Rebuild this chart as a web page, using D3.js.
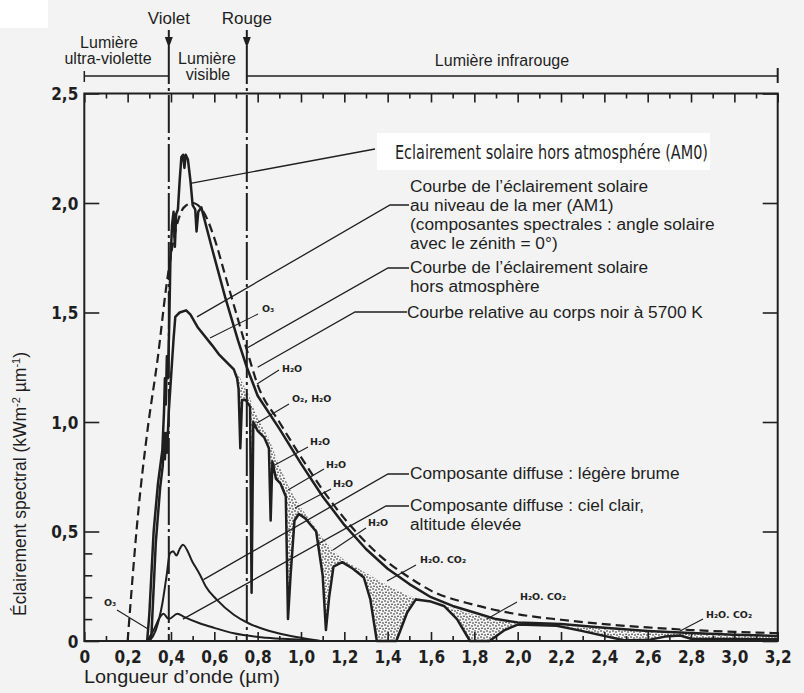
<!DOCTYPE html>
<html><head><meta charset="utf-8">
<script src="https://cdn.jsdelivr.net/npm/d3@7"></script>
<style>
body{margin:0;background:#f3f3f3}
text{font-family:"Liberation Sans",Arial,sans-serif;fill:#1f1f1f}
.tick text{font-family:"Liberation Sans Narrow","DejaVu Sans Condensed","Liberation Sans",sans-serif;font-stretch:condensed;font-weight:bold;font-size:17px}
.chem{font-family:"DejaVu Sans",sans-serif;font-weight:bold;font-size:9.5px}
</style>
</head><body>
<svg id="c" width="804" height="693"></svg>
<script>
// ---------------- data ----------------
// Extraterrestrial solar irradiance (AM0), kW m-2 µm-1
const am0Wave  = [0.29,0.30,0.32,0.34,0.36,0.368,0.372,0.376,0.381,0.386,0.392,0.397,0.405,0.412,0.418,0.424,0.432,0.44,0.448,0.456,0.462,0.468,0.478,0.49,0.50,0.512,0.518,0.526,0.54,0.59,0.65,0.71,0.75,0.80,0.90,1.0,1.1,1.2,1.3,1.4,1.5,1.6,1.7,1.8,1.9,2.0,2.2,2.4,2.6,2.8,3.0,3.2];
const am0Value = [0.0,0.12,0.5,0.72,0.87,1.05,1.2,1.08,1.3,1.2,1.45,1.72,1.9,1.96,1.8,1.95,1.97,2.1,2.21,2.22,2.16,2.22,2.2,2.1,1.99,1.97,1.87,1.96,1.98,1.79,1.57,1.37,1.25,1.12,0.97,0.81,0.66,0.53,0.42,0.33,0.26,0.2,0.16,0.13,0.1,0.085,0.078,0.06,0.046,0.036,0.029,0.023];
// Sea-level solar irradiance (AM1)
const am1Wave  = [0.30,0.31,0.33,0.35,0.362,0.368,0.372,0.377,0.382,0.39,0.40,0.412,0.42,0.44,0.47,0.49,0.525,0.59,0.62,0.66,0.69,0.705,0.712,0.72,0.728,0.745,0.765,0.772,0.78,0.80,0.83,0.852,0.86,0.868,0.885,0.905,0.93,0.94,0.952,0.97,0.99,1.02,1.07,1.1,1.115,1.13,1.15,1.19,1.24,1.29,1.32,1.35,1.44,1.49,1.53,1.6,1.66,1.72,1.78,1.87,1.94,2.0,2.18,2.3,2.49,2.6,2.68,2.75,2.8,3.2];
const am1Value = [0.0,0.03,0.45,0.7,0.8,0.95,0.83,0.95,0.86,1.05,1.2,1.38,1.48,1.5,1.51,1.49,1.43,1.35,1.31,1.27,1.24,1.2,1.15,0.88,1.1,1.1,1.07,0.22,1.0,0.96,0.93,0.88,0.55,0.82,0.74,0.72,0.66,0.1,0.3,0.55,0.58,0.56,0.5,0.3,0.05,0.2,0.34,0.36,0.33,0.29,0.19,0.0,0.0,0.13,0.19,0.18,0.16,0.1,0.0,0.0,0.05,0.075,0.07,0.045,0.003,0.004,0.02,0.025,0.01,0.008];
// Upper edge of the stippled absorption areas (AM1 without absorption)
const stipTopWave  = [0.68,0.72,0.76,0.80,0.85,0.90,0.95,1.0,1.05,1.1,1.15,1.2,1.3,1.4,1.5,1.6,1.7,1.8,1.9,2.0,2.2,2.4,2.6,2.8,3.0,3.2];
const stipTopValue = [1.25,1.2,1.12,1.02,0.93,0.8,0.69,0.61,0.54,0.47,0.41,0.37,0.31,0.255,0.205,0.18,0.15,0.12,0.095,0.08,0.07,0.055,0.043,0.035,0.03,0.025];
// Black body at 5700 K (relative)
const bbWave  = [0.20,0.25,0.29,0.34,0.38,0.42,0.46,0.50,0.55,0.60,0.65,0.70,0.75,0.80,0.90,1.0,1.1,1.2,1.3,1.4,1.5,1.6,1.8,2.0,2.2,2.4,2.6,2.8,3.0,3.2];
const bbValue = [0.0,0.6,0.95,1.3,1.63,1.87,1.98,2.0,1.96,1.84,1.67,1.5,1.33,1.17,1.0,0.84,0.69,0.56,0.45,0.36,0.29,0.23,0.165,0.122,0.097,0.077,0.062,0.05,0.042,0.036];
// Diffuse component: light haze
const hazeWave  = [0.30,0.33,0.36,0.38,0.395,0.41,0.425,0.44,0.455,0.50,0.535,0.56,0.61,0.69,0.76,0.84,0.92,1.0,1.09];
const hazeValue = [0.0,0.05,0.17,0.3,0.4,0.41,0.39,0.42,0.44,0.36,0.3,0.25,0.19,0.12,0.08,0.05,0.03,0.015,0.0];
// Diffuse component: clear sky, high altitude
const clearWave  = [0.29,0.32,0.35,0.365,0.39,0.43,0.46,0.535,0.6,0.69,0.84,1.0,1.09];
const clearValue = [0.0,0.05,0.11,0.125,0.1,0.125,0.11,0.08,0.06,0.035,0.015,0.006,0.0];

const xTicks      = [0,0.2,0.4,0.6,0.8,1.0,1.2,1.4,1.6,1.8,2.0,2.2,2.4,2.6,2.8,3.0,3.2];
const xTickLabels = ["0","0,2","0,4","0,6","0,8","1,0","1,2","1,4","1,6","1,8","2,0","2,2","2,4","2,6","2,8","3,0","3,2"];
const xMinorTicks = [0.1,0.3,0.5,0.7,0.9,1.1,1.3,1.5,1.7,1.9,2.1,2.3,2.5,2.7,2.9,3.1];
const yTicks      = [0,0.5,1.0,1.5,2.0,2.5];
const yTickLabels = ["0","0,5","1,0","1,5","2,0","2,5"];
const yMinorTicks = [0.1,0.2,0.3,0.4];
const violetEdge = 0.39, redEdge = 0.75;

// ---------------- drawing ----------------
const svg = d3.select("#c");
const ink = "#1f1f1f";
const x = d3.scaleLinear().domain([0,3.2]).range([84.3,777.7]);
const y = d3.scaleLinear().domain([0,2.5]).range([641,93.5]);
const P = (l,v)=>[x(l),y(v)];

svg.append("rect").attr("width",804).attr("height",693).attr("fill","#f3f3f3");
svg.append("rect").attr("width",48).attr("height",28).attr("fill","#ffffff");

const defs = svg.append("defs");
const pat = defs.append("pattern").attr("id","stip").attr("patternUnits","userSpaceOnUse").attr("width",6).attr("height",6);
pat.append("rect").attr("width",6).attr("height",6).attr("fill","#f3f3f3");
[[1,1],[4,2],[2,4.2],[5,5]].forEach(([a,b])=>pat.append("circle").attr("cx",a).attr("cy",b).attr("r",0.8).attr("fill",ink));

const zip = (a,b)=>a.map((d,i)=>[d,b[i]]);
const interp = (ws,vs,l)=>{ if(l<=ws[0]) return vs[0]; for(let i=1;i<ws.length;i++){ if(l<=ws[i]){const t=(l-ws[i-1])/(ws[i]-ws[i-1]);return vs[i-1]+t*(vs[i]-vs[i-1]);} } return vs[vs.length-1]; };

// stippled absorption area between AM1 and its unabsorbed envelope
const grid = Array.from(new Set(stipTopWave.concat(am1Wave).filter(l=>l>=stipTopWave[0]))).sort((a,b)=>a-b);
const band = grid.map(l=>{const lo=interp(am1Wave,am1Value,l);const hi=Math.max(lo,interp(stipTopWave,stipTopValue,l));return {l,lo,hi};});
svg.append("path").datum(band).attr("fill","url(#stip)").attr("stroke","none")
  .attr("d",d3.area().x(d=>x(d.l)).y0(d=>y(d.lo)).y1(d=>y(d.hi)));

const lineLin = d3.line().x(d=>x(d[0])).y(d=>y(d[1]));
const lineSm  = d3.line().x(d=>x(d[0])).y(d=>y(d[1])).curve(d3.curveMonotoneX);

svg.append("path").datum(zip(bbWave,bbValue)).attr("d",lineSm).attr("fill","none").attr("stroke",ink).attr("stroke-width",2.2).attr("stroke-dasharray","9,5");
svg.append("path").datum(zip(hazeWave,hazeValue)).attr("d",lineSm).attr("fill","none").attr("stroke",ink).attr("stroke-width",2);
svg.append("path").datum(zip(clearWave,clearValue)).attr("d",lineSm).attr("fill","none").attr("stroke",ink).attr("stroke-width",2);
svg.append("path").datum(zip(am0Wave,am0Value)).attr("d",lineLin).attr("fill","none").attr("stroke",ink).attr("stroke-width",2.5).attr("stroke-linejoin","round");
svg.append("path").datum(zip(am1Wave,am1Value)).attr("d",lineLin).attr("fill","none").attr("stroke",ink).attr("stroke-width",2.5).attr("stroke-linejoin","round");

// violet / red limits
[violetEdge, redEdge].forEach(l=>{
  svg.append("line").attr("x1",x(l)).attr("x2",x(l)).attr("y1",46).attr("y2",y(0)).attr("stroke",ink).attr("stroke-width",2).attr("stroke-dasharray","38,4,3,4");
  svg.append("line").attr("x1",x(l)).attr("x2",x(l)).attr("y1",30).attr("y2",40).attr("stroke",ink).attr("stroke-width",2);
  svg.append("path").attr("d",`M${x(l)-4},37L${x(l)+4},37L${x(l)},48Z`).attr("fill",ink);
});
svg.append("text").attr("x",x(violetEdge)).attr("y",24).attr("text-anchor","middle").attr("font-size",17).text("Violet");
svg.append("text").attr("x",x(redEdge)).attr("y",24).attr("text-anchor","middle").attr("font-size",17).text("Rouge");

// range bars
svg.append("line").attr("x1",x(0)).attr("x2",x(violetEdge)).attr("y1",76).attr("y2",76).attr("stroke",ink).attr("stroke-width",1.5);
svg.append("line").attr("x1",x(0)).attr("x2",x(0)).attr("y1",71).attr("y2",82).attr("stroke",ink).attr("stroke-width",1.5);
svg.append("line").attr("x1",x(redEdge)).attr("x2",x(3.2)).attr("y1",76).attr("y2",76).attr("stroke",ink).attr("stroke-width",1.5);
svg.append("line").attr("x1",x(3.2)).attr("x2",x(3.2)).attr("y1",68).attr("y2",83).attr("stroke",ink).attr("stroke-width",2);
const hdr = [["Lumière",109,48],["ultra-violette",108,64],["Lumière",207,64],["visible",208,80],["Lumière infrarouge",502,66]];
hdr.forEach(([t,a,b])=>svg.append("text").attr("x",a).attr("y",b).attr("text-anchor","middle").attr("font-size",16).text(t));

// axes
const fmtX = d=>xTickLabels[xTicks.indexOf(d)];
const fmtY = d=>yTickLabels[yTicks.indexOf(d)];
const gB = svg.append("g").attr("transform",`translate(0,${y(0)})`).call(d3.axisBottom(x).tickValues(xTicks).tickFormat(fmtX).tickSize(-9).tickPadding(10));
svg.append("g").attr("transform",`translate(0,${y(0)})`).call(d3.axisBottom(x).tickValues(xMinorTicks).tickFormat("").tickSize(-5));
const gL = svg.append("g").attr("transform",`translate(${x(0)},0)`).call(d3.axisLeft(y).tickValues(yTicks).tickFormat(fmtY).tickSize(-15).tickPadding(6));
svg.append("g").attr("transform",`translate(${x(0)},0)`).call(d3.axisLeft(y).tickValues(yMinorTicks).tickFormat("").tickSize(-8));
svg.append("g").attr("transform",`translate(${x(3.2)},0)`).call(d3.axisRight(y).tickValues(yTicks).tickFormat("").tickSize(-15));
svg.append("g").attr("transform",`translate(0,${y(2.5)})`).call(d3.axisTop(x).tickValues(xTicks).tickFormat("").tickSize(-9));
svg.append("g").attr("transform",`translate(0,${y(2.5)})`).call(d3.axisTop(x).tickValues(xMinorTicks).tickFormat("").tickSize(-5));
svg.selectAll(".domain").remove();
svg.selectAll(".tick line").attr("stroke",ink).attr("stroke-width",1.6);
gB.selectAll("text").attr("fill",ink);
gL.selectAll("text").attr("fill",ink).attr("dy","0.36em");
svg.append("rect").attr("x",x(0)).attr("y",y(2.5)).attr("width",x(3.2)-x(0)).attr("height",y(0)-y(2.5)).attr("fill","none").attr("stroke",ink).attr("stroke-width",2);

// axis titles
svg.append("text").attr("x",84).attr("y",683).attr("font-size",19).attr("textLength",196).attr("lengthAdjust","spacingAndGlyphs").text("Longueur d’onde (µm)");
const yt = svg.append("text").attr("transform","translate(26,484) rotate(-90)").attr("text-anchor","middle").attr("font-size",17.5);
yt.append("tspan").text("Éclairement spectral (kWm");
yt.append("tspan").attr("baseline-shift","super").attr("font-size",11).text("-2");
yt.append("tspan").text(" µm");
yt.append("tspan").attr("baseline-shift","super").attr("font-size",11).text("-1");
yt.append("tspan").text(")");

// leaders
const lead = pts => svg.append("path").attr("d",d3.line()(pts)).attr("fill","none").attr("stroke",ink).attr("stroke-width",1.3);
lead([P(0.49,2.09),[375,149]]);
lead([P(0.52,1.48),[390,205],[409,205]]);
lead([P(0.755,1.34),[388,268],[409,268]]);
lead([P(0.80,1.25),[355,312],[407,312]]);
lead([P(0.55,0.28),[388,474],[409,474]]);
lead([P(0.455,0.10),[386,506],[409,506]]);

// AM0 boxed label
svg.append("rect").attr("x",377).attr("y",133).attr("width",333).attr("height",37).attr("fill","#ffffff");
svg.append("text").attr("x",395).attr("y",159).attr("font-size",20).attr("textLength",313).attr("lengthAdjust","spacingAndGlyphs")
  .style("font-family","'Liberation Sans Narrow','DejaVu Sans Condensed',sans-serif").style("font-stretch","condensed").text("Eclairement solaire hors atmosphére (AM0)");

const rlab = [
 ["Courbe de l’éclairement solaire",410,192],
 ["au niveau de la mer (AM1)",410,211],
 ["(composantes spectrales : angle solaire",410,230],
 ["avec le zénith = 0°)",410,249],
 ["Courbe de l’éclairement solaire",410,273],
 ["hors atmosphère",410,292],
 ["Courbe relative au corps noir à 5700 K",407,318],
 ["Composante diffuse : légère brume",410,479],
 ["Composante diffuse : ciel clair,",410,511],
 ["altitude élevée",410,530]
];
rlab.forEach(([t,a,b])=>svg.append("text").attr("x",a).attr("y",b).attr("font-size",17.3).text(t));

// absorber labels
const chem = [
 ["O₃",262,312,[[210,338],[258,314]]],
 ["H₂O",282,372,[[257,384],[279,370]]],
 ["O₂, H₂O",292,402,[[257,423],[289,404]]],
 ["H₂O",310,445,[[273,466],[308,447]]],
 ["H₂O",326,468,[[288,490],[324,469]]],
 ["H₂O",333,487,[[295,508],[331,489]]],
 ["H₂O",368,526,[[333,550],[366,528]]],
 ["O₃",104,606,[[117,610],[148,629]]],
 ["H₂O. CO₂",420,563,[[387,581],[416,565]]],
 ["H₂O. CO₂",520,600,[[487,619],[517,602]]],
 ["H₂O. CO₂",706,618,[[680,631],[703,619]]]
];
chem.forEach(([t,a,b,pts])=>{ lead(pts).attr("stroke-width",1.1); svg.append("text").attr("class","chem").attr("x",a).attr("y",b).text(t); });
</script>
</body></html>
